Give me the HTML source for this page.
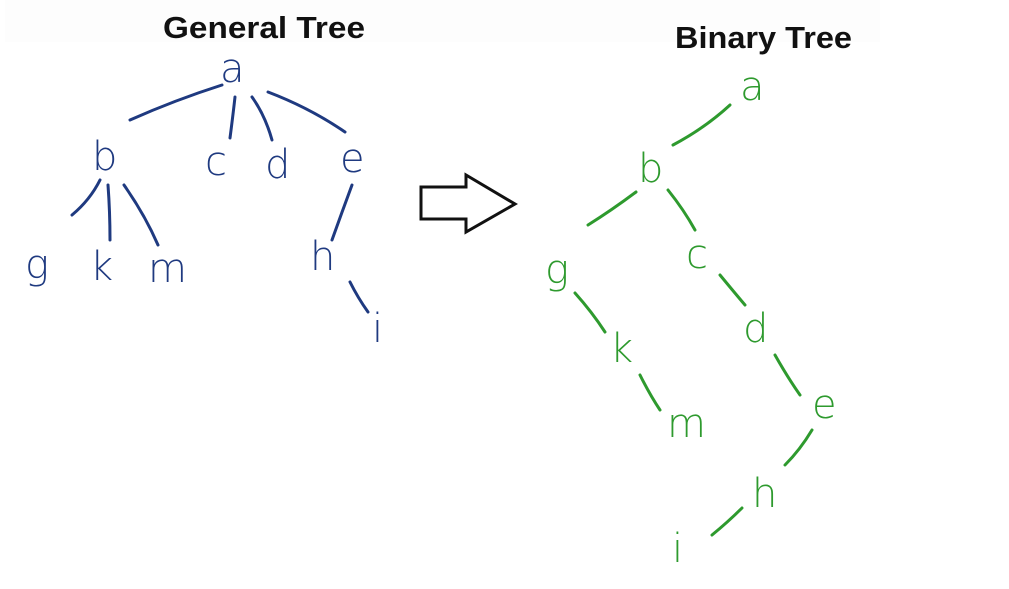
<!DOCTYPE html>
<html><head><meta charset="utf-8"><style>
html,body{margin:0;padding:0;background:#fff;width:1009px;height:589px;overflow:hidden}
svg{display:block}
.t{font-family:"Liberation Sans",sans-serif;font-weight:bold;font-size:31px;fill:#111}
.bl{font-family:"DejaVu Sans",sans-serif;font-size:40px;fill:#1f3a80;font-weight:300}
.gr{font-family:"DejaVu Sans",sans-serif;font-size:40px;fill:#2e9a2e;font-weight:300}
</style></head><body>
<svg width="1009" height="589" viewBox="0 0 1009 589">
<rect x="5" y="0" width="875" height="42" fill="#fdfdfd"/>
<text class="t" x="163" y="38" textLength="202" lengthAdjust="spacingAndGlyphs">General Tree</text>
<text class="t" x="675" y="48" textLength="177" lengthAdjust="spacingAndGlyphs">Binary Tree</text>
<g fill="none" stroke="#1f3a80" stroke-width="3" stroke-linecap="round">
<path d="M130 120 Q175 100 222 85"/>
<path d="M235 97 Q233 115 230 138"/>
<path d="M252 97 Q265 115 272 140"/>
<path d="M268 92 Q310 108 345 132"/>
<path d="M100 180 Q90 200 72 215"/>
<path d="M108 185 Q110 212 110 240"/>
<path d="M124 185 Q145 215 158 245"/>
<path d="M352 185 Q342 212 332 240"/>
<path d="M350 282 Q358 298 368 312"/>
</g>
<g class="bl">
<text x="220" y="82">a</text>
<text x="92" y="170">b</text>
<text x="205" y="175">c</text>
<text x="265" y="178">d</text>
<text x="340" y="172">e</text>
<text x="25" y="278">g</text>
<text x="90" y="280">k</text>
<text x="148" y="282">m</text>
<text x="310" y="270">h</text>
<text x="372" y="342">i</text>
</g>
<path d="M421 187 L466 187 L466 175 L515 204 L466 232 L466 219 L421 219 Z" fill="#fff" stroke="#111" stroke-width="3" stroke-linejoin="miter"/>
<g fill="none" stroke="#2e9a2e" stroke-width="3" stroke-linecap="round">
<path d="M730 105 Q705 128 673 145"/>
<path d="M636 192 Q612 210 588 225"/>
<path d="M668 190 Q684 210 695 230"/>
<path d="M575 293 Q592 312 605 332"/>
<path d="M640 375 Q650 395 660 410"/>
<path d="M720 275 Q734 292 745 305"/>
<path d="M775 355 Q788 378 800 395"/>
<path d="M812 430 Q800 450 785 465"/>
<path d="M742 508 Q728 522 712 535"/>
</g>
<g class="gr">
<text x="740" y="100">a</text>
<text x="638" y="182">b</text>
<text x="545" y="283">g</text>
<text x="686" y="268">c</text>
<text x="610" y="362">k</text>
<text x="743" y="342">d</text>
<text x="667" y="437">m</text>
<text x="812" y="418">e</text>
<text x="752" y="507">h</text>
<text x="672" y="562">i</text>
</g>
</svg>
</body></html>
